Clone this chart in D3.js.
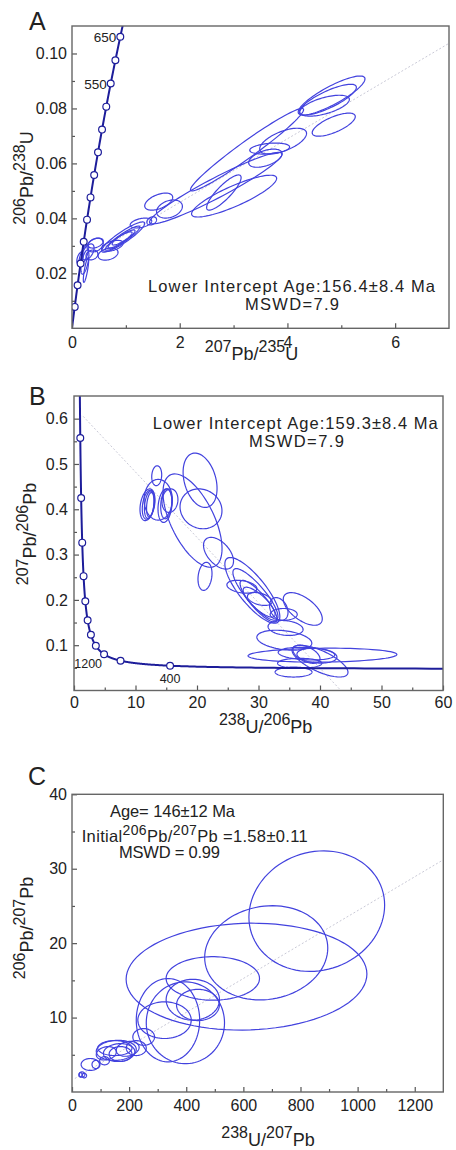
<!DOCTYPE html>
<html>
<head>
<meta charset="utf-8">
<script src="https://cdn.jsdelivr.net/npm/d3@7/dist/d3.min.js"></script>
<style>
  body { margin: 0; background: #fff; }
  svg text { font-family: "Liberation Sans", Arial, sans-serif; fill: #222; }
</style>
</head>
<body>
<div class="charts"></div>
<script>
// decay constants (per Ma) and present-day 238U/235U
var lambda238 = 1.55125e-4,
    lambda235 = 9.8485e-4,
    u238u235 = 137.88;

// ---- A: Wetherill concordia ----
var xTicksA = [0, 2, 4, 6],
    xMinorA = [1, 3, 5],
    yTicksA = [0.02, 0.04, 0.06, 0.08, 0.10],
    yMinorA = [0.01, 0.03, 0.05, 0.07, 0.09];
var markerAgesA = [50, 100, 150, 200, 250, 300, 350, 400, 450, 500, 550, 600, 650];
var labelAgesA = [550, 650];
var discordiaA = [[0.17, 0.0246], [7, 0.1037]];
// each ellipse: x, y, sigma x, sigma y, rho
var ellipsesA = [
  [0.15, 0.0256, 0.06, 0.0022, 0.5],
  [0.22, 0.0267, 0.09, 0.0036, 0.7],
  [0.24, 0.0241, 0.074, 0.0044, 0.6],
  [0.26, 0.0212, 0.05, 0.0045, 0.8],
  [0.30, 0.0278, 0.11, 0.0029, 0.5],
  [0.37, 0.0267, 0.11, 0.0018, 0.2],
  [0.43, 0.0303, 0.15, 0.0025, 0.3],
  [0.44, 0.0310, 0.14, 0.0018, 0.4],
  [0.67, 0.0270, 0.185, 0.0022, 0.3],
  [0.75, 0.0300, 0.20, 0.0020, 0.5],
  [0.95, 0.0332, 0.40, 0.0055, 0.9],
  [0.94, 0.0328, 0.32, 0.0044, 0.92],
  [0.92, 0.0325, 0.25, 0.0033, 0.9],
  [0.93, 0.0327, 0.185, 0.0024, 0.85],
  [1.28, 0.0383, 0.20, 0.0018, 0.4],
  [1.48, 0.0391, 0.09, 0.0015, 0.3],
  [1.61, 0.0461, 0.26, 0.0031, 0.5],
  [1.81, 0.0434, 0.24, 0.0033, 0.3],
  [2.67, 0.0510, 1.23, 0.0130, 0.95],
  [3.01, 0.0481, 0.79, 0.0076, 0.85],
  [2.82, 0.0494, 0.32, 0.0064, 0.85],
  [3.25, 0.0650, 1.05, 0.0150, 0.97],
  [3.59, 0.0619, 0.31, 0.0033, 0.5],
  [3.67, 0.0654, 0.37, 0.0020, 0.3],
  [3.92, 0.0681, 0.435, 0.0047, 0.6],
  [4.69, 0.0810, 0.46, 0.0038, 0.6],
  [4.75, 0.0832, 0.53, 0.0056, 0.8],
  [4.82, 0.0847, 0.62, 0.0071, 0.85],
  [4.86, 0.0741, 0.40, 0.0042, 0.7]
];

// ---- B: Tera-Wasserburg concordia ----
var xTicksB = [0, 10, 20, 30, 40, 50, 60],
    xMinorB = [5, 15, 25, 35, 45, 55],
    yTicksB = [0.1, 0.2, 0.3, 0.4, 0.5, 0.6],
    yMinorB = [0.05, 0.15, 0.25, 0.35, 0.45, 0.55];
var markerAgesB = [400, 800, 1200, 1600, 2000, 2400, 2800, 3200, 3600, 4000, 4400];
var labelAgesB = [400, 1200];
var discordiaB = [[1.5, 0.605], [43.4, 0]];
var ellipsesB = [
  [13.45, 0.474, 0.81, 0.022, 0.1],
  [11.95, 0.410, 1.22, 0.035, 0.3],
  [12.1, 0.410, 1.0, 0.032, 0.3],
  [12.25, 0.410, 0.8, 0.030, 0.3],
  [12.4, 0.410, 0.6, 0.027, 0.3],
  [14.8, 0.408, 1.14, 0.037, 0.2],
  [15.0, 0.412, 0.9, 0.033, 0.2],
  [15.6, 0.419, 1.3, 0.026, 0.1],
  [13.7, 0.421, 2.3, 0.045, 0],
  [19.27, 0.375, 4.8, 0.103, -0.6],
  [20.5, 0.464, 2.76, 0.060, -0.3],
  [20.65, 0.401, 3.41, 0.044, -0.1],
  [23.5, 0.303, 2.44, 0.035, -0.5],
  [21.3, 0.252, 1.14, 0.031, 0.2],
  [29.0, 0.221, 4.47, 0.0725, -0.8],
  [29.5, 0.212, 3.66, 0.057, -0.85],
  [30.0, 0.197, 3.0, 0.046, -0.85],
  [30.1, 0.195, 2.6, 0.033, -0.8],
  [27.3, 0.229, 2.44, 0.0143, -0.3],
  [30.2, 0.202, 2.0, 0.0143, -0.4],
  [33.3, 0.180, 1.5, 0.025, -0.3],
  [34.1, 0.168, 2.2, 0.013, 0],
  [37.2, 0.180, 3.17, 0.036, -0.6],
  [34.4, 0.138, 2.85, 0.0165, -0.2],
  [34.2, 0.111, 4.47, 0.022, -0.3],
  [40.4, 0.078, 12.1, 0.0154, 0.1],
  [37.8, 0.0813, 4.6, 0.014, -0.2],
  [40.0, 0.0648, 4.55, 0.035, -0.7],
  [37.8, 0.080, 2.2, 0.020, -0.5],
  [39.5, 0.077, 3.25, 0.0165, -0.2],
  [36.7, 0.060, 3.6, 0.011, 0],
  [35.7, 0.0407, 3.0, 0.011, 0]
];

// ---- C: isochron ----
var xTicksC = [0, 200, 400, 600, 800, 1000, 1200],
    xMinorC = [100, 300, 500, 700, 900, 1100],
    yTicksC = [10, 20, 30, 40],
    yMinorC = [5, 15, 25, 35];
var isochronC = [[10, 1.81], [1300, 31.2]];
var ellipsesC = [
  [857, 24.3, 237.6, 8.1, 0.1],
  [680, 18.7, 215.5, 6.33, 0.1],
  [611, 15.5, 421.5, 7.18, 0.05],
  [493, 15.26, 163.5, 2.92, 0],
  [336, 9.65, 111, 5.6, 0],
  [397, 9.3, 137, 5.5, 0],
  [423, 12.4, 93.4, 2.74, 0],
  [441, 11.7, 75, 2.1, 0],
  [324, 9.65, 93.5, 2.46, 0],
  [251, 7.4, 38, 1.12, 0],
  [225, 5.9, 35, 1.0, 0],
  [155, 5.6, 70, 1.35, 0.1],
  [165, 5.3, 55, 1.2, 0.1],
  [170, 5.1, 40, 1.0, 0],
  [150, 5.9, 60, 1.0, 0],
  [120, 5.2, 35, 0.9, 0.2],
  [195, 5.8, 40, 1.0, 0.2],
  [64, 3.7, 32, 0.8, 0],
  [84, 3.7, 14, 0.55, 0],
  [114, 4.2, 17, 0.55, 0],
  [35, 2.35, 10, 0.35, 0],
  [43, 2.2, 8, 0.3, 0],
  [30, 2.3, 6, 0.3, 0]
];

var svg = d3.select(".charts").append("svg")
  .attr("width", 456)
  .attr("height", 1150);

function makePanel(id, box, xDomain, yDomain) {
  var x = d3.scaleLinear().domain(xDomain).range([box.left, box.right]);
  var y = d3.scaleLinear().domain(yDomain).range([box.bottom, box.top]);
  svg.append("clipPath").attr("id", id)
    .append("rect")
    .attr("x", box.left).attr("y", box.top)
    .attr("width", box.right - box.left).attr("height", box.bottom - box.top);
  var g = svg.append("g").attr("clip-path", "url(#" + id + ")");
  return {x: x, y: y, g: g, box: box};
}

function drawAxes(p, o) {
  var b = p.box;
  var xAxis = d3.axisBottom(p.x).tickValues(o.xTicks).tickFormat(o.xFormat)
    .tickSize(-5).tickSizeOuter(0).tickPadding(o.xPad);
  var xMinor = d3.axisBottom(p.x).tickValues(o.xMinor).tickFormat("")
    .tickSize(-3).tickSizeOuter(0);
  var yAxis = d3.axisLeft(p.y).tickValues(o.yTicks).tickFormat(o.yFormat)
    .tickSize(-5).tickSizeOuter(0).tickPadding(o.yPad);
  var yMinor = d3.axisLeft(p.y).tickValues(o.yMinor).tickFormat("")
    .tickSize(-3).tickSizeOuter(0);

  [[xAxis, "translate(0," + b.bottom + ")"], [xMinor, "translate(0," + b.bottom + ")"],
   [yAxis, "translate(" + b.left + ",0)"], [yMinor, "translate(" + b.left + ",0)"]]
    .forEach(function(a) {
      var ag = svg.append("g")
        .attr("transform", a[1])
        .call(a[0]);
      // axis() sets its own small font, override after the call
      ag.attr("font-size", 16).attr("font-family", null);
      ag.select(".domain").remove();
      ag.selectAll("line").attr("stroke", "#555").attr("stroke-width", 1.2);
      ag.selectAll("text").attr("fill", "#222");
    });

  svg.append("rect")
    .attr("x", b.left).attr("y", b.top)
    .attr("width", b.right - b.left).attr("height", b.bottom - b.top)
    .attr("fill", "none")
    .attr("stroke", "#666")
    .attr("stroke-width", 1.4);
}

function drawEllipses(p, list) {
  var line = d3.line()
    .x(function(d) { return p.x(d[0]); })
    .y(function(d) { return p.y(d[1]); })
    .curve(d3.curveLinearClosed);
  var steps = d3.range(0, 2 * Math.PI, Math.PI / 45);
  p.g.selectAll("path.ellipse")
    .data(list)
    .enter().append("path")
    .attr("class", "ellipse")
    .attr("fill", "none")
    .attr("stroke", "#4242de")
    .attr("stroke-width", 1.2)
    .attr("d", function(e) {
      var k = Math.sqrt(1 - e[4] * e[4]);
      return line(steps.map(function(t) {
        return [e[0] + e[2] * Math.cos(t), e[1] + e[3] * (e[4] * Math.cos(t) + k * Math.sin(t))];
      }));
    });
}

function drawRefLine(p, pts) {
  p.g.append("line")
    .attr("x1", p.x(pts[0][0])).attr("y1", p.y(pts[0][1]))
    .attr("x2", p.x(pts[1][0])).attr("y2", p.y(pts[1][1]))
    .attr("stroke", "#c9c9d6")
    .attr("stroke-width", 1)
    .attr("stroke-dasharray", "2,2");
}

function drawConcordia(p, fn, ages, markers) {
  var line = d3.line()
    .x(function(t) { return p.x(fn(t)[0]); })
    .y(function(t) { return p.y(fn(t)[1]); });
  p.g.append("path")
    .datum(ages)
    .attr("fill", "none")
    .attr("stroke", "#1d1d9a")
    .attr("stroke-width", 2)
    .attr("d", line);
  p.g.selectAll("circle.age")
    .data(markers)
    .enter().append("circle")
    .attr("class", "age")
    .attr("cx", function(t) { return p.x(fn(t)[0]); })
    .attr("cy", function(t) { return p.y(fn(t)[1]); })
    .attr("r", 3.4)
    .attr("fill", "#fff")
    .attr("stroke", "#1d1d9a")
    .attr("stroke-width", 1.2);
}

function axisTitle(x, y, parts, rotated) {
  var t = svg.append("text").attr("font-size", 18).attr("text-anchor", "middle");
  if (rotated) t.attr("transform", "translate(" + x + "," + y + ") rotate(-90)");
  else t.attr("x", x).attr("y", y);
  var cur = 0;
  parts.forEach(function(s) {
    var isNum = /^\d+$/.test(s);
    var want = isNum ? -8 : 0;
    t.append("tspan").attr("dy", want - cur).attr("font-size", isNum ? 16 : 18).text(s);
    cur = want;
  });
}

function note(x, y, anchor, width, str) {
  svg.append("text")
    .attr("x", x).attr("y", y)
    .attr("text-anchor", anchor)
    .attr("font-size", 16.5)
    .attr("textLength", width)
    .attr("lengthAdjust", "spacing")
    .text(str);
}

function panelLetter(x, y, s) {
  svg.append("text").attr("x", x).attr("y", y).attr("font-size", 25).text(s);
}

function wetherill(t) {
  return [Math.exp(lambda235 * t) - 1, Math.exp(lambda238 * t) - 1];
}
function teraWasserburg(t) {
  var r6 = Math.exp(lambda238 * t) - 1,
      r7 = Math.exp(lambda235 * t) - 1;
  return [1 / r6, r7 / r6 / u238u235];
}

// ---- A ----
var pA = makePanel("clipA", {left: 72, top: 26, right: 449, bottom: 328.3}, [0, 7], [0, 0.11]);
drawRefLine(pA, discordiaA);
drawEllipses(pA, ellipsesA);
drawConcordia(pA, wetherill, d3.range(0, 725, 5), markerAgesA);
drawAxes(pA, {xTicks: xTicksA, xMinor: xMinorA, yTicks: yTicksA, yMinor: yMinorA,
  xFormat: d3.format("d"), yFormat: d3.format(".2f"), xPad: 8, yPad: 5});
svg.selectAll("text.ageA")
  .data(labelAgesA)
  .enter().append("text")
  .attr("class", "ageA")
  .attr("x", function(t) { return pA.x(wetherill(t)[0]) - 4; })
  .attr("y", function(t) { return pA.y(wetherill(t)[1]) + 5; })
  .attr("text-anchor", "end")
  .attr("font-size", 13.5)
  .text(function(t) { return t; });
panelLetter(29, 30, "A");
axisTitle(251.5, 360, ["207", "Pb/", "235", "U"], false);
axisTitle(33, 178, ["206", "Pb/", "238", "U"], true);
note(291.5, 291.5, "middle", 287, "Lower Intercept Age:156.4\u00b18.4 Ma");
note(292, 310, "middle", 94, "MSWD=7.9");

// ---- B ----
var pB = makePanel("clipB", {left: 74, top: 396, right: 443, bottom: 690.5}, [0, 60], [0, 0.65]);
drawRefLine(pB, discordiaB);
drawEllipses(pB, ellipsesB);
drawConcordia(pB, teraWasserburg, d3.range(100, 4705, 5), markerAgesB);
drawAxes(pB, {xTicks: xTicksB, xMinor: xMinorB, yTicks: yTicksB, yMinor: yMinorB,
  xFormat: d3.format("d"), yFormat: d3.format(".1f"), xPad: 6, yPad: 6});
svg.selectAll("text.ageB")
  .data(labelAgesB)
  .enter().append("text")
  .attr("class", "ageB")
  .attr("x", function(t) { return pB.x(teraWasserburg(t)[0]) + (t < 1000 ? 0 : -2); })
  .attr("y", function(t) { return pB.y(teraWasserburg(t)[1]) + (t < 1000 ? 17 : 14); })
  .attr("text-anchor", function(t) { return t < 1000 ? "middle" : "end"; })
  .attr("font-size", 12.5)
  .text(function(t) { return t; });
panelLetter(29, 405, "B");
axisTitle(265.6, 733, ["238", "U/", "206", "Pb"], false);
axisTitle(36, 534, ["207", "Pb/", "206", "Pb"], true);
note(295.3, 428.5, "middle", 285, "Lower Intercept Age:159.3\u00b18.4 Ma");
note(296.5, 446.7, "middle", 95, "MSWD=7.9");

// ---- C ----
var pC = makePanel("clipC", {left: 72, top: 794.3, right: 443.3, bottom: 1092}, [0, 1300], [0, 40]);
drawRefLine(pC, isochronC);
drawEllipses(pC, ellipsesC);
drawAxes(pC, {xTicks: xTicksC, xMinor: xMinorC, yTicks: yTicksC, yMinor: yMinorC,
  xFormat: d3.format("d"), yFormat: d3.format("d"), xPad: 8, yPad: 5});
panelLetter(28, 785, "C");
axisTitle(268, 1146, ["238", "U/", "207", "Pb"], false);
axisTitle(33, 928, ["206", "Pb/", "207", "Pb"], true);
note(110, 817, "start", 125, "Age= 146\u00b112 Ma");
var initial = svg.append("text")
  .attr("x", 81.7).attr("y", 841.7)
  .attr("font-size", 16.5)
  .attr("textLength", 226)
  .attr("lengthAdjust", "spacing");
initial.append("tspan").text("Initial");
initial.append("tspan").attr("dy", -7).attr("font-size", 14).text("206");
initial.append("tspan").attr("dy", 7).text("Pb/");
initial.append("tspan").attr("dy", -7).attr("font-size", 14).text("207");
initial.append("tspan").attr("dy", 7).text("Pb =1.58\u00b10.11");
note(119, 858, "start", 101, "MSWD = 0.99");
</script>
</body>
</html>
